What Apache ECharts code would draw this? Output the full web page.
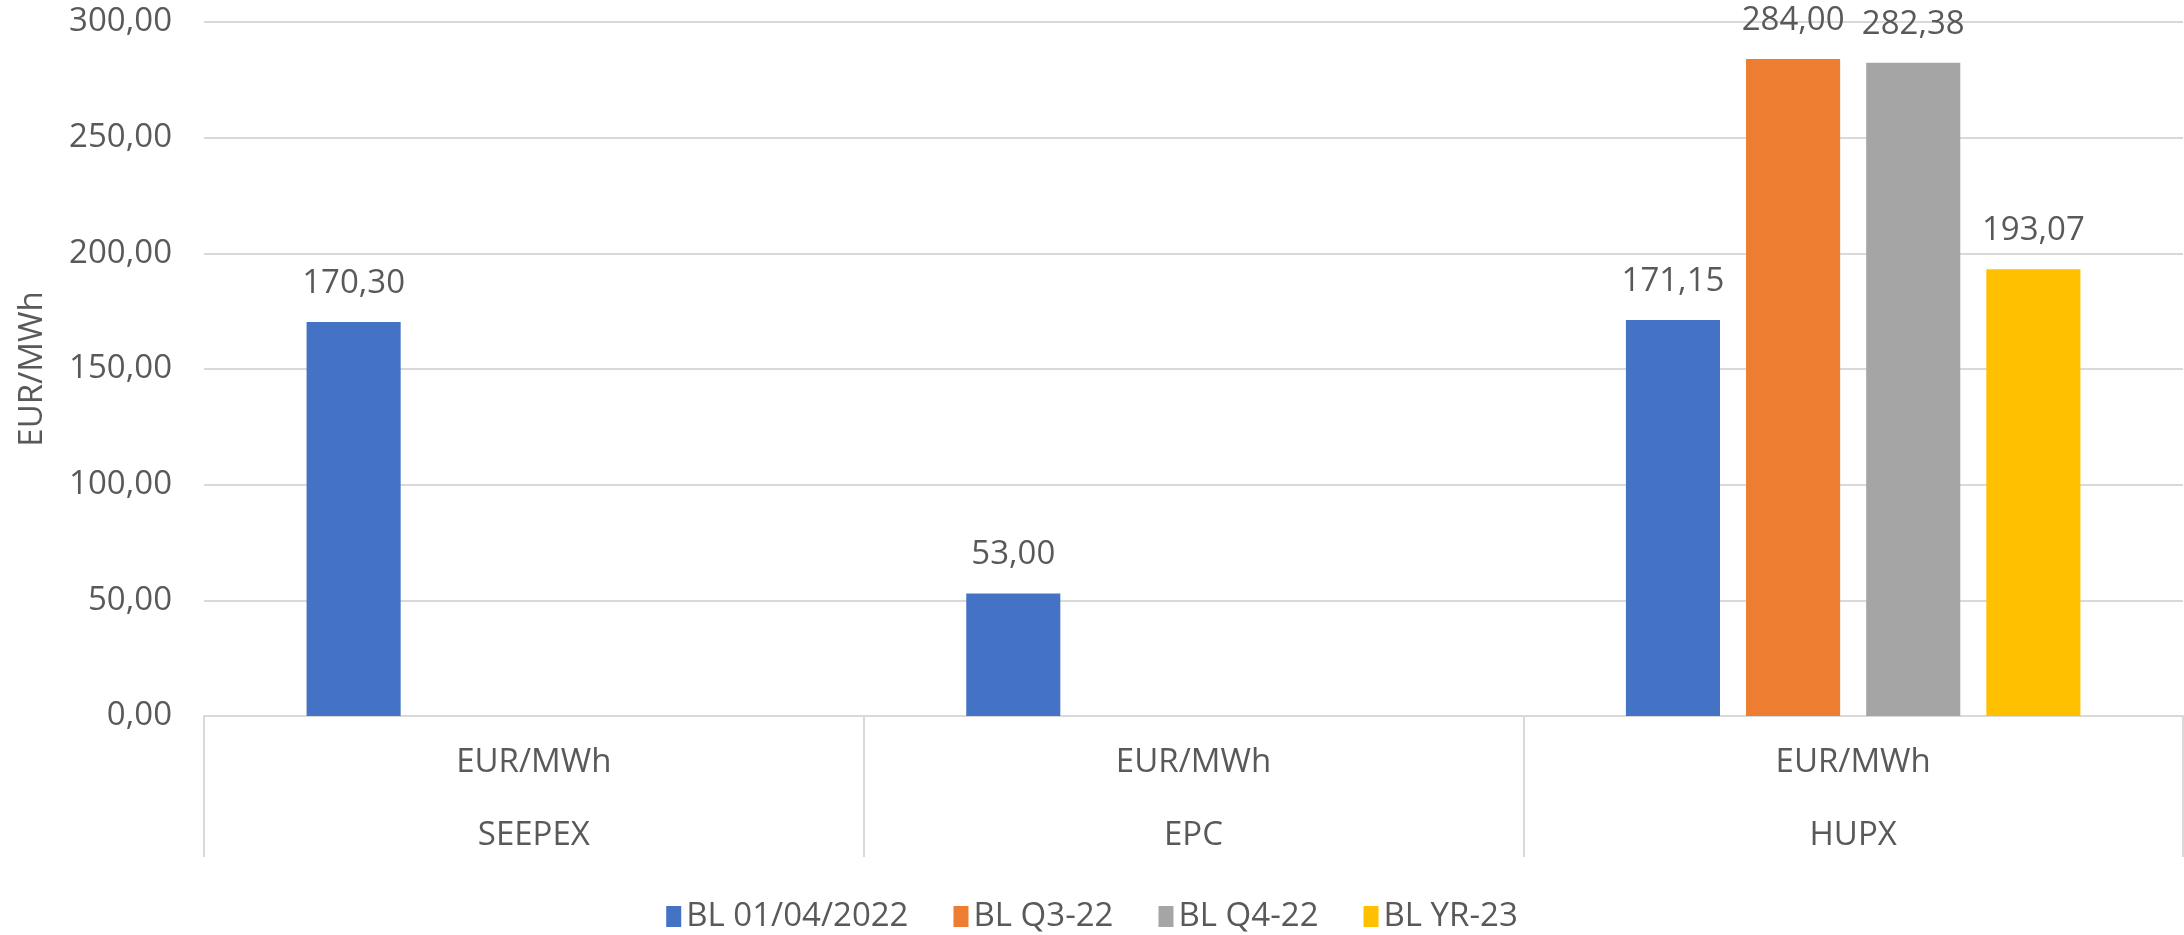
<!DOCTYPE html>
<html>
<head>
<meta charset="utf-8">
<style>
  html, body { margin: 0; padding: 0; background: #fff; }
  #chart { width: 2184px; height: 935px; }
</style>
<script src="https://cdn.jsdelivr.net/npm/echarts@6/dist/echarts.min.js"></script>
</head>
<body>
<div id="chart"></div>
<script>
// chart data
const markets = ['SEEPEX', 'EPC', 'HUPX'];
const units = ['EUR/MWh', 'EUR/MWh', 'EUR/MWh'];
const seriesNames = ['BL 01/04/2022', 'BL Q3-22', 'BL Q4-22', 'BL YR-23'];
const bl010422 = [170.30, 53.00, 171.15];
const blQ322 = [null, null, 284.00];
const blQ422 = [null, null, 282.38];
const blYR23 = [null, null, 193.07];
const yTicks = [0, 50, 100, 150, 200, 250, 300];

const colors = ['#4472C4', '#ED7D31', '#A5A5A5', '#FFC000'];
const textColor = '#595959';
const lineColor = '#D9D9D9';
const font = '"Open Sans", "Liberation Sans", sans-serif';

const fmt = v => Number(v).toFixed(2).replace('.', ',');

const chart = echarts.init(document.getElementById('chart'));

const makeSeries = (name, data, color) => ({
  name: name,
  type: 'bar',
  data: data,
  barGap: '27.7%',
  barCategoryGap: '31.1%',
  itemStyle: { color: color },
  label: {
    show: true,
    position: 'top',
    distance: 22,
    color: textColor,
    fontFamily: font,
    fontSize: 33,
    formatter: p => fmt(p.value)
  }
});

chart.setOption({
  animation: false,
  textStyle: { fontFamily: font },
  grid: {
    left: 204,
    right: 1,
    top: 22,
    bottom: 219
  },
  legend: {
    bottom: -3,
    left: 'center',
    itemWidth: 15,
    itemHeight: 21,
    itemGap: 45,
    icon: 'rect',
    textStyle: { color: textColor, fontSize: 33, fontFamily: font },
    data: seriesNames
  },
  xAxis: {
    type: 'category',
    data: markets,
    axisLine: { lineStyle: { color: lineColor, width: 2 } },
    axisTick: {
      show: true,
      length: 141,
      lineStyle: { color: lineColor, width: 2 }
    },
    axisLabel: {
      margin: 10,
      color: textColor,
      fontSize: 33,
      fontFamily: font,
      lineHeight: 73,
      formatter: (v, i) => units[i] + '\n' + v
    }
  },
  yAxis: {
    type: 'value',
    min: yTicks[0],
    max: yTicks[yTicks.length - 1],
    interval: yTicks[1] - yTicks[0],
    name: 'EUR/MWh',
    nameLocation: 'middle',
    nameRotate: 90,
    nameGap: 155,
    nameTextStyle: { color: textColor, fontSize: 33, fontFamily: font },
    axisLine: { show: false },
    axisTick: { show: false },
    axisLabel: {
      margin: 32,
      color: textColor,
      fontSize: 33,
      fontFamily: font,
      formatter: v => fmt(v)
    },
    splitLine: { lineStyle: { color: lineColor, width: 2 } }
  },
  series: [
    makeSeries(seriesNames[0], bl010422, colors[0]),
    makeSeries(seriesNames[1], blQ322, colors[1]),
    makeSeries(seriesNames[2], blQ422, colors[2]),
    makeSeries(seriesNames[3], blYR23, colors[3])
  ]
});
</script>
</body>
</html>
